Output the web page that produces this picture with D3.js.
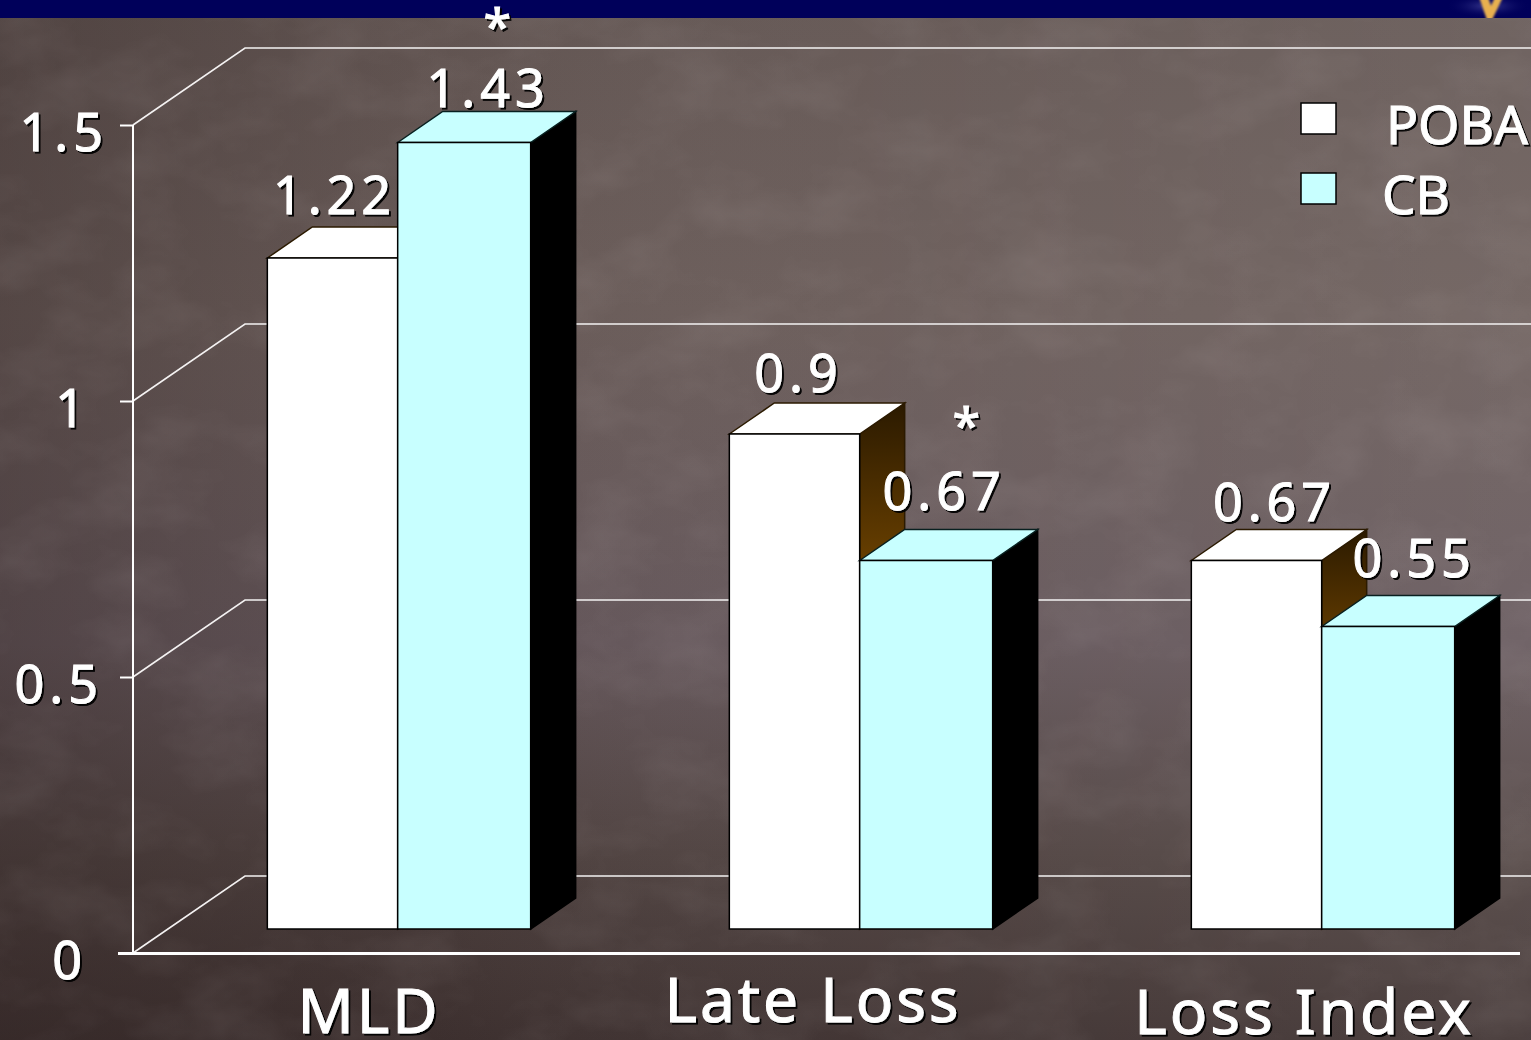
<!DOCTYPE html>
<html>
<head>
<meta charset="utf-8">
<title>MLD, Late Loss and Loss Index</title>
<script src="https://cdn.jsdelivr.net/npm/d3@7"></script>
<style>
html,body{margin:0;padding:0;background:#554846;overflow:hidden}
svg{display:block}
text{font-family:"Noto Sans",sans-serif;fill:#fff;stroke:#fff;stroke-width:1px;filter:url(#textShadow)}
</style>
</head>
<body>
<svg id="chart" width="1531" height="1040"></svg>
<script>
// Chart values
const categories = ["MLD", "Late Loss", "Loss Index"];
const seriesNames = ["POBA", "CB"];
const pobaValues = [1.22, 0.9, 0.67];
const cbValues = [1.43, 0.67, 0.55];
const tickValues = [0, 0.5, 1, 1.5];
const tickLabels = ["0", "0.5", "1", "1.5"];
const starred = ["MLD", "Late Loss"];

// Layout of the pseudo-3D plot
const W = 1531, H = 1040;
const plot = {left: 133, right: 1519, bottom: 953, top: 125};
const wall = {dx: 112, dy: -77};      // back wall relative to the front plane
const barPlane = {dx: 35, base: 929, top: 104};   // bars stand inside the box, in front of the wall
const barDepth = {dx: 45, dy: -31};
const pobaShare = 0.495;              // white bars are a touch narrower than the cyan ones
const colors = {POBA: "#ffffff", CB: "#c8ffff"};

// Hand-placed label offsets, by category then series
const valueNudge = [
  [{x: 2, y: -44}, {x: 24, y: -36}],
  [{x: 4, y: -42}, {x: 18, y: -51}],
  [{x: 18, y: -40}, {x: 26, y: -50}]
];
const categoryLabelPos = [{x: 369, y: 1033}, {x: 813, y: 1022}, {x: 1304, y: 1034}];
const starPos = {MLD: {x: 33, y: 45}, "Late Loss": {x: 40, y: 444}};
const tickLabelRight = {"0": 87, "0.5": 103, "1": 90, "1.5": 108};

const y = d3.scaleLinear().domain([0, 1.5]).range([plot.bottom, plot.top]);
const yBar = d3.scaleLinear().domain([0, 1.5]).range([barPlane.base, barPlane.top]);
const x0 = d3.scaleBand().domain(categories)
  .range([plot.left + barPlane.dx, plot.right + barPlane.dx])
  .paddingInner(0.43).paddingOuter(0.215);
const x1 = d3.scaleOrdinal().domain(seriesNames).range([0, pobaShare]);
const share = {POBA: pobaShare, CB: 1 - pobaShare};

const svg = d3.select("#chart");
const defs = svg.append("defs");

// Backdrop shading
const bgLinear = defs.append("linearGradient").attr("id", "bgLinear")
  .attr("x1", 0).attr("y1", 0).attr("x2", 0).attr("y2", 1);
[[0, "#635653"], [0.3, "#6a5c59"], [0.62, "#64565a"], [0.82, "#4f4240"], [1, "#3d302f"]]
  .forEach(s => bgLinear.append("stop").attr("offset", s[0]).attr("stop-color", s[1]));
const bgSide = defs.append("linearGradient").attr("id", "bgSide")
  .attr("x1", 0).attr("y1", 0).attr("x2", 1).attr("y2", 0);
[[0, "#2a1e1e", 0.34], [0.28, "#2a1e1e", 0.06], [0.55, "#ffffff", 0.03], [1, "#ffffff", 0.08]]
  .forEach(s => bgSide.append("stop").attr("offset", s[0]).attr("stop-color", s[1]).attr("stop-opacity", s[2]));

// Blotchy slate texture
const tex = defs.append("filter").attr("id", "slate")
  .attr("x", 0).attr("y", 0).attr("width", "100%").attr("height", "100%");
tex.append("feTurbulence").attr("type", "fractalNoise").attr("baseFrequency", "0.011 0.017")
  .attr("numOctaves", 4).attr("seed", 11).attr("result", "n");
tex.append("feColorMatrix").attr("type", "matrix")
  .attr("values", "0 0 0 0 0.95  0 0 0 0 0.88  0 0 0 0 0.88  1.5 0 0 0 -0.62");

// Text shadow
const shadow = defs.append("filter").attr("id", "textShadow")
  .attr("x", "-10%").attr("y", "-10%").attr("width", "125%").attr("height", "125%");
shadow.append("feDropShadow").attr("dx", 2).attr("dy", 2).attr("stdDeviation", 0.4)
  .attr("flood-color", "#000").attr("flood-opacity", 0.95);

// Side-wall shading for the white bars
const sideFill = defs.append("linearGradient").attr("id", "pobaSide")
  .attr("x1", 0).attr("y1", 0).attr("x2", 0).attr("y2", 1);
[[0, "#2b1a00"], [0.32, "#6b4100"], [1, "#b87a00"]]
  .forEach(s => sideFill.append("stop").attr("offset", s[0]).attr("stop-color", s[1]));

// Header band glow and its soft emblem
const glow = defs.append("radialGradient").attr("id", "bandGlow");
[[0, "#3a3a90", 1], [1, "#00005a", 0]]
  .forEach(s => glow.append("stop").attr("offset", s[0]).attr("stop-color", s[1]).attr("stop-opacity", s[2]));
const emblemBlur = defs.append("filter").attr("id", "emblemBlur")
  .attr("x", "-30%").attr("y", "-30%").attr("width", "160%").attr("height", "160%");
emblemBlur.append("feGaussianBlur").attr("stdDeviation", 1.3);
const headerClip = defs.append("clipPath").attr("id", "headerClip");
headerClip.append("rect").attr("width", W).attr("height", 18);

// Background and header
svg.append("rect").attr("width", W).attr("height", H).attr("fill", "url(#bgLinear)");
svg.append("rect").attr("width", W).attr("height", H).attr("fill", "url(#bgSide)");
svg.append("rect").attr("width", W).attr("height", H).attr("filter", "url(#slate)").attr("opacity", 0.09);
svg.append("rect").attr("width", W).attr("height", 18).attr("fill", "#00005a");
const header = svg.append("g").attr("clip-path", "url(#headerClip)");
header.append("ellipse").attr("cx", 1488).attr("cy", 6).attr("rx", 42).attr("ry", 12).attr("fill", "url(#bandGlow)");
header.append("path").attr("d", "M1479 -3 L1487 20 L1492 20 L1503 -3 L1495 -3 L1491 6 L1488 -3 Z")
  .attr("fill", "#e8b050").attr("filter", "url(#emblemBlur)");

// Back wall: gridlines with their connectors down to the front axis
const grid = svg.append("g").attr("fill", "none").attr("stroke", "#f4f2f2").attr("stroke-width", 1.6);
grid.selectAll("path").data(tickValues).join("path")
  .attr("d", v => d3.line()([
    [plot.left, y(v)],
    [plot.left + wall.dx, y(v) + wall.dy],
    [W + 10, y(v) + wall.dy]
  ]));

// Value axis
const yAxis = svg.append("g").attr("transform", `translate(${plot.left},0)`)
  .call(d3.axisLeft(y).tickValues(tickValues).tickSize(13).tickPadding(0)
    .tickFormat((d, i) => tickLabels[i]));
yAxis.selectAll("line").attr("stroke", "#fff").attr("stroke-width", 2);
yAxis.select(".domain").attr("stroke", "#fff").attr("stroke-width", 2).attr("d", `M0,${plot.top}V${plot.bottom}`);
yAxis.selectAll("text")
  .attr("x", d => tickLabelRight[tickLabels[tickValues.indexOf(d)]] - plot.left)
  .attr("dy", 25)
  .attr("text-anchor", "end")
  .style("font-family", '"Noto Sans",sans-serif')
  .style("font-size", "52px")
  .style("letter-spacing", "5px");

// Category axis baseline
svg.append("line").attr("x1", plot.left - 15).attr("x2", plot.right + 1)
  .attr("y1", plot.bottom + 0.5).attr("y2", plot.bottom + 0.5)
  .attr("stroke", "#fff").attr("stroke-width", 3);

// Bars, drawn as side, top and front faces
const rows = categories.flatMap((c, i) => [
  {category: c, i, s: 0, series: "POBA", value: pobaValues[i]},
  {category: c, i, s: 1, series: "CB", value: cbValues[i]}
]);
const geom = d => {
  const bw = x0.bandwidth();
  const left = x0(d.category) + x1(d.series) * bw;
  const right = left + share[d.series] * bw;
  const top = yBar(d.value);
  const base = yBar(0);
  return {left, right, top, base};
};
const bars = svg.append("g").selectAll("g").data(rows).join("g");
bars.append("path")
  .attr("d", d => {
    const g = geom(d);
    return d3.line()([[g.right, g.top], [g.right + barDepth.dx, g.top + barDepth.dy],
      [g.right + barDepth.dx, g.base + barDepth.dy], [g.right, g.base]]) + "Z";
  })
  .attr("fill", d => d.series === "POBA" ? "url(#pobaSide)" : "#000")
  .attr("stroke", d => d.series === "POBA" ? "#2b1a00" : "#000").attr("stroke-width", 1.5);
bars.append("path")
  .attr("d", d => {
    const g = geom(d);
    return d3.line()([[g.left, g.top], [g.left + barDepth.dx, g.top + barDepth.dy],
      [g.right + barDepth.dx, g.top + barDepth.dy], [g.right, g.top]]) + "Z";
  })
  .attr("fill", d => colors[d.series])
  .attr("stroke", d => d.series === "POBA" ? "#2b1a00" : "#082020").attr("stroke-width", 1.5);
bars.append("rect")
  .attr("x", d => geom(d).left).attr("y", d => geom(d).top)
  .attr("width", d => geom(d).right - geom(d).left).attr("height", d => geom(d).base - geom(d).top)
  .attr("fill", d => colors[d.series])
  .attr("stroke", "#000").attr("stroke-width", 1.5);

// Value labels
svg.append("g").selectAll("text").data(rows).join("text")
  .attr("x", d => (geom(d).left + geom(d).right) / 2 + valueNudge[d.i][d.s].x)
  .attr("y", d => geom(d).top + valueNudge[d.i][d.s].y)
  .attr("text-anchor", "middle")
  .style("font-size", "52px").style("letter-spacing", "5px")
  .text(d => d.value);

// Significance markers above the CB bars
svg.append("g").selectAll("text").data(starred).join("text")
  .attr("x", d => {
    const bw = x0.bandwidth();
    return x0(d) + x1("CB") * bw + share.CB * bw / 2 + starPos[d].x;
  })
  .attr("y", d => starPos[d].y)
  .attr("text-anchor", "middle")
  .style("font-size", "50px")
  .text("*");

// Category labels
svg.append("g").selectAll("text").data(categories).join("text")
  .attr("x", (d, i) => categoryLabelPos[i].x)
  .attr("y", (d, i) => categoryLabelPos[i].y)
  .attr("text-anchor", "middle")
  .style("font-size", "62px").style("letter-spacing", "3px")
  .text(d => d);

// Legend
const legendRow = d3.scalePoint().domain(seriesNames).range([103, 173]);
const legendText = {POBA: 1386, CB: 1382};
const legend = svg.append("g").selectAll("g").data(seriesNames).join("g");
legend.append("rect").attr("x", 1301).attr("y", d => legendRow(d))
  .attr("width", 35).attr("height", 31)
  .attr("fill", d => colors[d]).attr("stroke", "#000").attr("stroke-width", 1.5);
legend.append("text").attr("x", d => legendText[d]).attr("y", d => legendRow(d) + 41)
  .style("font-size", "53px")
  .text(d => d);
</script>
</body>
</html>
